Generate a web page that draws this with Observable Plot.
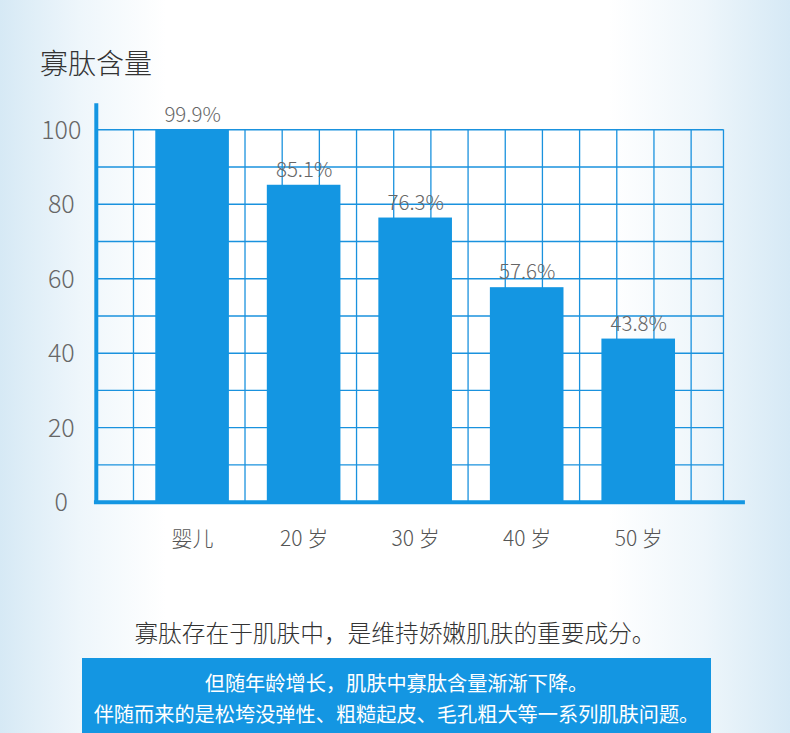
<!DOCTYPE html>
<html>
<head>
<meta charset="utf-8">
<script src="https://cdn.jsdelivr.net/npm/d3@7"></script>
<script src="https://cdn.jsdelivr.net/npm/@observablehq/plot@0.6"></script>
<style>
  html, body { margin: 0; padding: 0; }
  body {
    width: 790px; height: 733px; position: relative; overflow: hidden;
    font-family: "Noto Sans CJK SC", "Noto Sans", sans-serif; font-weight: 300;
    background: linear-gradient(to right, #d6e9f5 0%, #eef6fb 10%, #ffffff 21%, #ffffff 77%, #eef6fb 89%, #d6e9f5 100%);
  }
  #title { position: absolute; left: 40px; top: 48px; font-size: 28px; line-height: 28px; color: #333; }
  #chart { position: absolute; left: 0; top: 90px; }
  #note { position: absolute; left: 0; width: 790px; top: 619px; text-align: center; font-size: 23.7px; line-height: 26px; color: #333; }
  #box { position: absolute; left: 82px; width: 629px; top: 658px; height: 80px; background: #1496e2; color: #fff; text-align: center; font-size: 20.2px; font-weight: 400; }
  #box div { position: absolute; left: 0; width: 100%; line-height: 22px; }
</style>
</head>
<body>
<div id="title">寡肽含量</div>
<div id="chart"></div>
<div id="note">寡肽存在于肌肤中，是维持娇嫩肌肤的重要成分。</div>
<div id="box">
  <div style="top:14px">但随年龄增长，肌肤中寡肽含量渐渐下降。</div>
  <div style="top:45px">伴随而来的是松垮没弹性、粗糙起皮、毛孔粗大等一系列肌肤问题。</div>
</div>
<script>
const categories = ["婴儿", "20 岁", "30 岁", "40 岁", "50 岁"];
const values = [99.9, 85.1, 76.3, 57.6, 43.8];
const yTicks = [0, 20, 40, 60, 80, 100];
const gridY = [10, 20, 30, 40, 50, 60, 70, 80, 90, 100];

const blue = "#1496e2";
const gridColor = "#1a92de";
// x is measured in grid cells: bars occupy 2 cells, one every 3 cells
const center = (i) => 2.59 + 3 * i;
const centers = categories.map((c, i) => center(i));
const gridX = d3.range(1, 17).concat([16.87]);

const chart = Plot.plot({
  width: 790,
  height: 480,
  marginLeft: 95.8,
  marginRight: 43.6,
  marginTop: 13.2,
  marginBottom: 68.3,
  x: { domain: [0, 17.5], axis: null },
  y: { domain: [0, 107], axis: null },
  style: { background: "transparent", fontFamily: "'Noto Sans CJK SC', 'Noto Sans', sans-serif", fontWeight: 300, overflow: "visible" },
  marks: [
    Plot.ruleY(gridY, { x1: 0, x2: 16.87, stroke: gridColor, strokeWidth: 1.3 }),
    Plot.ruleX(gridX, { y1: 0, y2: 100, stroke: gridColor, strokeWidth: 1.3 }),
    Plot.rectY(values, {
      x1: (d, i) => center(i) - 0.99,
      x2: (d, i) => center(i) + 0.99,
      y1: 0,
      y2: (d) => d,
      fill: blue
    }),
    Plot.text(values, {
      x: (d, i) => center(i),
      y: (d) => d,
      text: (d) => d.toFixed(1) + "%",
      dy: -15,
      fontSize: 20.5,
      fill: "#666"
    }),
    Plot.ruleX([0], { y1: 0, y2: 107, stroke: blue, strokeWidth: 4 }),
    Plot.ruleY([0], { x1: -0.05, x2: 17.46, stroke: blue, strokeWidth: 4 }),
    Plot.axisY(yTicks, { tickSize: 0, tickPadding: 35, textAnchor: "middle", fontSize: 25, fill: "#666", dy: 1 }),
    Plot.axisX(centers, {
      tickSize: 0,
      tickPadding: 29,
      fontSize: 21,
      fill: "#555",
      tickFormat: (d) => categories[centers.indexOf(d)]
    })
  ]
});
document.getElementById("chart").appendChild(chart);
</script>
</body>
</html>
